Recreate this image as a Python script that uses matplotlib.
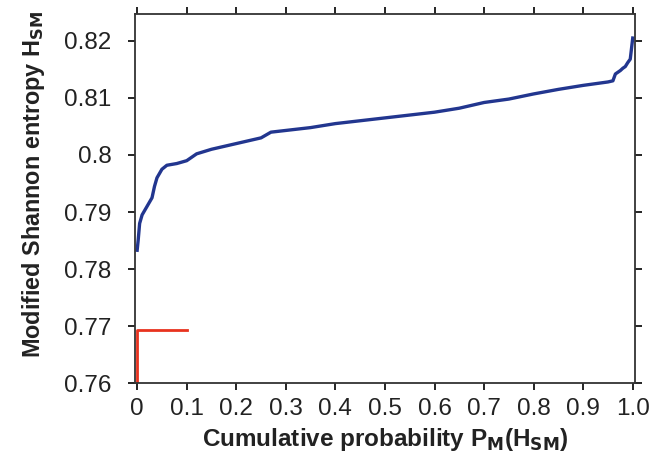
import numpy as np
import matplotlib.pyplot as plt

plt.rcParams['font.family'] = ['Liberation Sans', 'DejaVu Sans']

# data
prob = [0.0, 0.002, 0.005, 0.01, 0.02, 0.03, 0.035, 0.04, 0.05, 0.06, 0.08, 0.1,
        0.12, 0.15, 0.2, 0.25, 0.27, 0.3, 0.35, 0.4, 0.45, 0.5, 0.55, 0.6,
        0.65, 0.7, 0.75, 0.8, 0.85, 0.9, 0.95, 0.96, 0.965, 0.975, 0.98,
        0.985, 0.99, 0.995, 1.0]
entropy = [0.7833, 0.7850, 0.7880, 0.7895, 0.7910, 0.7925, 0.7945, 0.7960, 0.7975,
           0.7982, 0.7985, 0.7990, 0.8002, 0.8010, 0.8020, 0.8030, 0.8040, 0.8043,
           0.8048, 0.8055, 0.8060, 0.8065, 0.8070, 0.8075, 0.8082, 0.8092, 0.8098,
           0.8107, 0.8115, 0.8122, 0.8128, 0.8130, 0.8142, 0.8148, 0.8152, 0.8155,
           0.8162, 0.8168, 0.8205]
ref_x = [0.0, 0.0, 0.1]
ref_y = [0.76, 0.7694, 0.7694]

xticks = np.round(np.arange(0, 1.01, 0.1), 1)
xtick_labels = ['0', '0.1', '0.2', '0.3', '0.4', '0.5', '0.6', '0.7', '0.8', '0.9', '1.0']
yticks = [0.76, 0.77, 0.78, 0.79, 0.80, 0.81, 0.82]
ytick_labels = ['0.76', '0.77', '0.78', '0.79', '0.8', '0.81', '0.82']

fig = plt.figure(figsize=(6.53, 4.69), dpi=100)
ax = fig.add_axes([0.207, 0.183, 0.765, 0.787])

ax.plot(prob, entropy, color='#22368f', lw=2.4)
ax.plot(ref_x, ref_y, color='#e8321e', lw=2.0)

ax.set_xlim(-0.004, 1.004)
ax.set_ylim(0.76, 0.8247)
ax.set_xticks(xticks)
ax.set_xticklabels(xtick_labels)
ax.set_yticks(yticks)
ax.set_yticklabels(ytick_labels)
ax.tick_params(direction='out', length=5, width=1.2, labelsize=17.5,
               labelcolor='#222222', top=True, right=True)
ax.tick_params(axis='x', pad=6)
ax.tick_params(axis='y', pad=12)
for s in ax.spines.values():
    s.set_linewidth(1.3)
    s.set_color('#333333')

ax.set_xlabel('Cumulative probability P$_\\mathbf{M}$(H$_\\mathbf{SM}$)',
              fontsize=17.5, fontweight='bold', labelpad=4, color='#222222')
ax.set_ylabel('Modified Shannon entropy H$_\\mathbf{SM}$',
              fontsize=16.8, fontweight='bold', color='#222222')
ax.yaxis.set_label_coords(-0.176, 0.538)

fig.savefig('out.png', dpi=100)
